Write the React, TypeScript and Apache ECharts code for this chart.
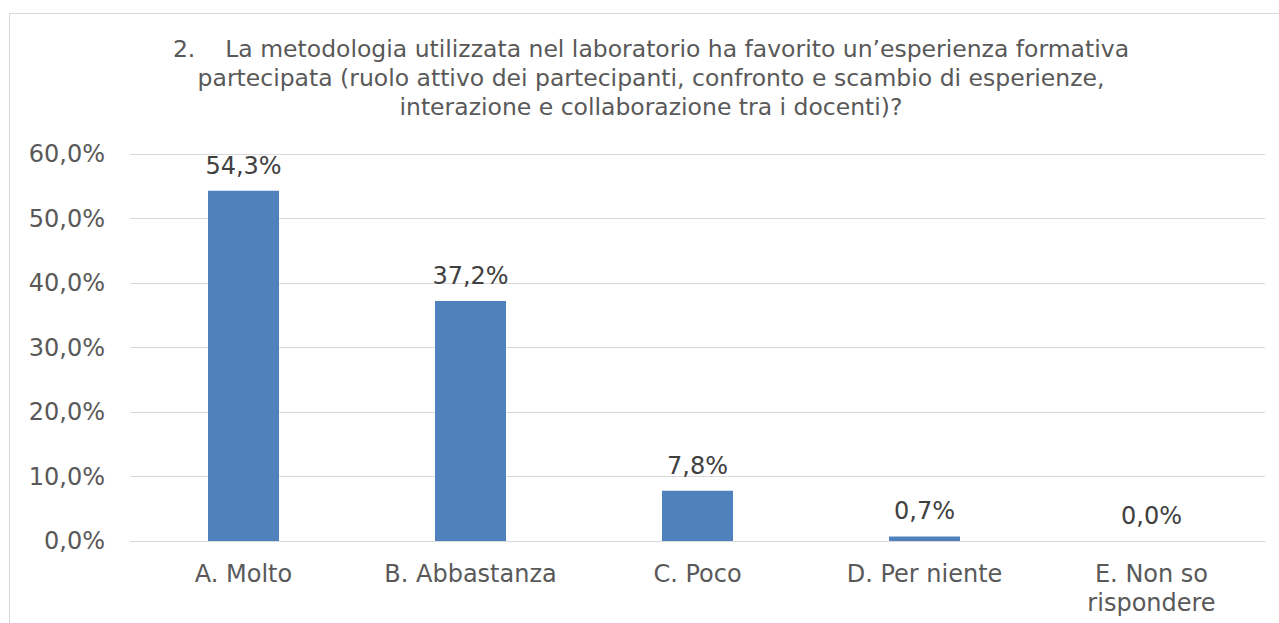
import React, { useEffect, useRef } from "react";
import * as echarts from "echarts";

const categories = ["A. Molto", "B. Abbastanza", "C. Poco", "D. Per niente", "E. Non so\nrispondere"];
const values = [54.3, 37.2, 7.8, 0.7, 0.0];
const titleLines = [
  "2.    La metodologia utilizzata nel laboratorio ha favorito un\u2019esperienza formativa",
  "partecipata (ruolo attivo dei partecipanti, confronto e scambio di esperienze,",
  "interazione e collaborazione tra i docenti)?",
];

const fmt = (v: number) => v.toFixed(1).replace(".", ",") + "%";

export default function App() {
  const ref = useRef<HTMLDivElement>(null);
  useEffect(() => {
    const chart = echarts.init(ref.current!, null, { renderer: "svg" });
    const font = "'DejaVu Sans', Verdana, sans-serif";
    chart.setOption({
      animation: false,
      graphic: [
        {
          type: "rect",
          shape: { x: 9.5, y: 13.5, width: 1300, height: 700 },
          style: { fill: "none", stroke: "#d9d9d9", lineWidth: 1 },
          silent: true,
        },
        {
          type: "text",
          x: 651,
          y: 34,
          style: {
            text: titleLines.join("\n"),
            fontFamily: font,
            fontSize: 23.5,
            lineHeight: 29,
            fill: "#595959",
            align: "center",
            verticalAlign: "top",
          },
        },
      ],
      grid: { left: 130, right: 14, top: 154, bottom: 82 },
      xAxis: {
        type: "category",
        data: categories,
        axisLine: { lineStyle: { color: "#d9d9d9", width: 1 } },
        axisTick: { show: false },
        axisLabel: {
          color: "#595959",
          fontFamily: font,
          fontSize: 24,
          lineHeight: 29,
          margin: 18,
          interval: 0,
        },
      },
      yAxis: {
        type: "value",
        min: 0,
        max: 60,
        interval: 10,
        axisLine: { show: false },
        axisTick: { show: false },
        splitLine: { lineStyle: { color: "#d9d9d9", width: 1 } },
        axisLabel: {
          color: "#595959",
          fontFamily: font,
          fontSize: 24,
          margin: 25,
          formatter: (v: number) => fmt(v),
        },
      },
      series: [
        {
          type: "bar",
          data: values,
          barWidth: 71,
          itemStyle: { color: "#4f81bd" },
          label: {
            show: true,
            position: "top",
            distance: 13,
            color: "#404040",
            fontFamily: font,
            fontSize: 24,
            formatter: (p: any) => fmt(p.value),
          },
        },
      ],
    });
    return () => chart.dispose();
  }, []);
  return (
    <div
      ref={ref}
      style={{ position: "absolute", left: 0, top: 0, width: 1279, height: 623, background: "#fff" }}
    />
  );
}
